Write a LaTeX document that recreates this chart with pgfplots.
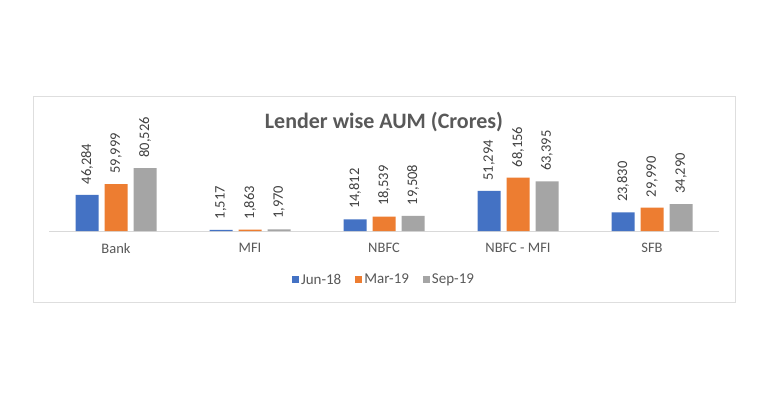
\documentclass[border=0pt]{standalone}
\usepackage{pgfplots}
\pgfplotsset{compat=1.18}
\usepackage{fontspec}
\setmainfont{Carlito}
\definecolor{cblue}{HTML}{4472C4}
\definecolor{corange}{HTML}{ED7D31}
\definecolor{cgray}{HTML}{A5A5A5}
\definecolor{txt}{HTML}{595959}
\definecolor{lbl}{HTML}{404040}
\begin{document}
\begin{tikzpicture}[x=1pt,y=1pt]
\path[use as bounding box] (0,0) rectangle (768,400);
\fill[white] (0,0) rectangle (768,400);
\draw[color=black!13, line width=0.8pt] (33,98) rectangle (735,304);
\begin{axis}[
  at={(49pt,169pt)}, anchor=south west,
  scale only axis, width=670pt, height=111pt,
  xmin=-0.5, xmax=4.5, ymin=0, ymax=142000,
  ybar=6pt, bar width=23pt,
  axis x line*=bottom, axis y line=none,
  x axis line style={draw=black!15, line width=0.8pt},
  xtick={0,1,2,3,4},
  xticklabels={Bank,MFI,NBFC,NBFC - MFI,SFB},
  major tick length=0pt,
  xticklabel style={font=\fontsize{14.5}{17}\selectfont, color=txt, yshift=-9pt},
  nodes near coords,
  /pgf/number format/.cd, fixed, precision=0, 1000 sep={,}, assume math mode=true,
  /pgfplots/.cd,
  every node near coord/.append style={rotate=90, anchor=west, font=\fontsize{14.5}{17}\selectfont, color=lbl, xshift=7pt},
  title={Lender wise AUM (Crores)},
  title style={at={(0.5,0.93)}, anchor=center, font=\bfseries\fontsize{22}{26}\selectfont, color=txt},
  legend style={at={(0.5,-0.44)}, anchor=center, draw=none, legend columns=3,
    font=\fontsize{15}{17}\selectfont, text=txt,
    /tikz/every even column/.append style={column sep=12pt}},
  legend image code/.code={\fill[#1] (0pt,-3.5pt) rectangle (7pt,3.5pt);},
]
\addplot[fill=cblue, draw=none] coordinates {(0,46284) (1,1517) (2,14812) (3,51294) (4,23830)};
\addplot[fill=corange, draw=none] coordinates {(0,59999) (1,1863) (2,18539) (3,68156) (4,29990)};
\addplot[fill=cgray, draw=none] coordinates {(0,80526) (1,1970) (2,19508) (3,63395) (4,34290)};
\legend{Jun-18,Mar-19,Sep-19}
\end{axis}
\end{tikzpicture}
\end{document}
